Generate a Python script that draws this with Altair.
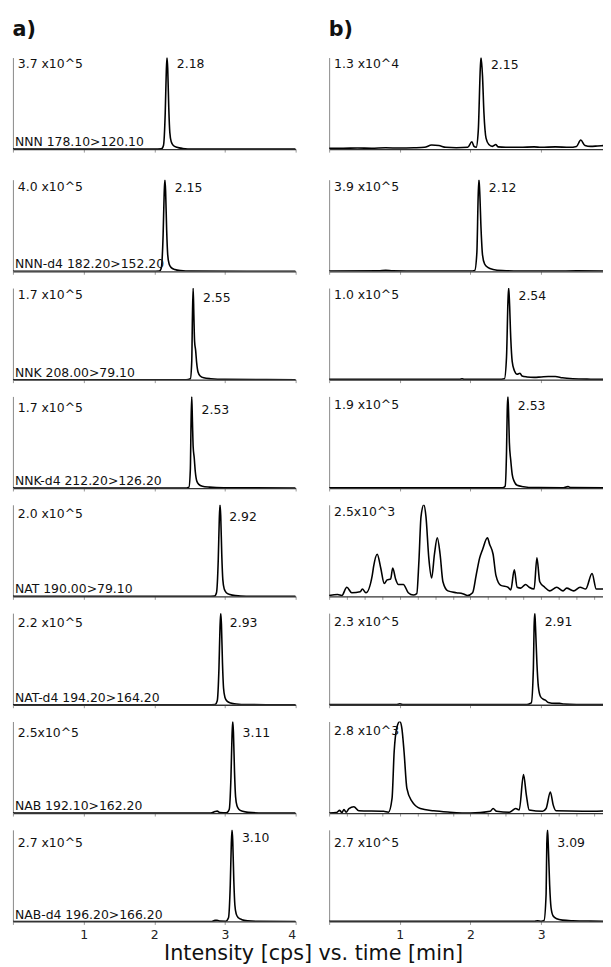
import altair as alt
import pandas as pd

FONT = "DejaVu Sans"

# ---------------- labels ----------------
LEFT_INTENSITY = ["3.7 x10^5", "4.0 x10^5", "1.7 x10^5", "1.7 x10^5",
                  "2.0 x10^5", "2.2 x10^5", "2.5x10^5", "2.7 x10^5"]
LEFT_COMPOUND = ["NNN 178.10>120.10", "NNN-d4 182.20>152.20", "NNK 208.00>79.10",
                 "NNK-d4 212.20>126.20", "NAT 190.00>79.10", "NAT-d4 194.20>164.20",
                 "NAB 192.10>162.20", "NAB-d4 196.20>166.20"]
LEFT_RT = ["2.18", "2.15", "2.55", "2.53", "2.92", "2.93", "3.11", "3.10"]

RIGHT_INTENSITY = ["1.3 x10^4", "3.9 x10^5", "1.0 x10^5", "1.9 x10^5",
                   "2.5x10^3", "2.3 x10^5", "2.8 x10^3", "2.7 x10^5"]
RIGHT_RT = ["2.15", "2.12", "2.54", "2.53", "", "2.91", "", "3.09"]

X_TICK_LABELS = [1, 2, 3, 4]

# layout: vertical offsets (px from panel top) of the in-panel labels
LEFT_INT_DY = [7, 7, 7, 12, 9, 10, 12, 13]
LEFT_RT_DY = [7, 8, 10, 14, 12, 10, 12, 8]
RIGHT_INT_DY = [7, 7, 7, 9, 7, 9, 10, 13]
RIGHT_RT_DY = [8, 8, 8, 10, 8, 9, 8, 13]

# ---------------- traces (time [min], relative intensity [%]) ----------------
a1_t = [0, 2.00, 2.10, 2.13, 2.155, 2.17, 2.18, 2.19, 2.205, 2.22, 2.24, 2.27, 2.32, 2.40, 2.55, 4.0]
a1_y = [0, 0, 0.3, 4, 40, 85, 100, 88, 45, 18, 8, 4, 2, 0.8, 0.2, 0]

a2_t = [0, 1.97, 2.07, 2.10, 2.125, 2.14, 2.15, 2.16, 2.175, 2.19, 2.21, 2.24, 2.29, 2.37, 2.52, 4.0]
a2_y = [0, 0, 0.3, 4, 40, 85, 100, 88, 45, 18, 8, 4, 2, 0.8, 0.2, 0]

a3_t = [0, 2.45, 2.51, 2.53, 2.54, 2.55, 2.56, 2.57, 2.585, 2.60, 2.62, 2.65, 2.70, 2.80, 3.00, 4.0]
a3_y = [0, 0, 1, 20, 70, 100, 70, 42, 32, 18, 8, 4, 2, 1, 0.3, 0]

a4_t = [0, 2.43, 2.49, 2.51, 2.52, 2.53, 2.54, 2.55, 2.565, 2.58, 2.60, 2.63, 2.68, 2.78, 2.98, 4.0]
a4_y = [0, 0, 1, 20, 70, 100, 72, 45, 33, 18, 8, 4, 2, 1, 0.3, 0]

a5_t = [0, 2.75, 2.85, 2.88, 2.905, 2.92, 2.93, 2.94, 2.955, 2.97, 2.99, 3.02, 3.07, 3.15, 3.30, 4.0]
a5_y = [0, 0, 0.3, 4, 40, 85, 100, 88, 45, 18, 8, 4, 2, 0.8, 0.2, 0]

a6_t = [0, 2.76, 2.86, 2.89, 2.915, 2.93, 2.94, 2.95, 2.965, 2.98, 3.00, 3.03, 3.08, 3.16, 3.31, 4.0]
a6_y = [0, 0, 0.3, 4, 40, 85, 100, 88, 45, 18, 8, 4, 2, 0.8, 0.2, 0]

a7_t = [0, 2.80, 2.86, 2.89, 2.93, 3.02, 3.06, 3.085, 3.10, 3.11, 3.12, 3.135, 3.15, 3.17, 3.20, 3.25, 3.33, 3.48, 4.0]
a7_y = [0, 0, 1.8, 2.2, 0.5, 0.3, 4, 40, 85, 100, 88, 45, 18, 8, 4, 2, 0.8, 0.2, 0]

a8_t = [0, 2.80, 2.86, 2.89, 2.93, 3.01, 3.05, 3.075, 3.09, 3.10, 3.11, 3.125, 3.14, 3.16, 3.19, 3.24, 3.32, 3.47, 4.0]
a8_y = [0, 0, 1.2, 1.4, 0.4, 0.3, 4, 40, 85, 100, 88, 45, 18, 8, 4, 2, 0.8, 0.2, 0]

b1_t = [0, 0.2, 0.4, 0.6, 0.8, 1.0, 1.2, 1.35, 1.45, 1.55, 1.65, 1.8, 1.96, 2.02, 2.05, 2.08,
        2.11, 2.14, 2.15, 2.17, 2.19, 2.22, 2.26, 2.31, 2.36, 2.39, 2.5, 2.7, 2.9, 3.0, 3.2, 3.4,
        3.5, 3.56, 3.62, 3.7, 3.8, 3.9]
b1_y = [1, 1, 1.2, 1, 1.5, 1.2, 1.5, 2, 4.5, 4, 2, 1.5, 2, 8, 3, 2,
        20, 90, 100, 80, 40, 12, 5, 3, 5, 2.5, 2, 2, 2.5, 2, 2.5, 2,
        3, 10, 4, 3, 3.5, 4]

b2_t = [0, 0.7, 0.8, 0.9, 1.5, 2.0, 2.06, 2.09, 2.11, 2.12, 2.13, 2.15, 2.17, 2.20, 2.25, 2.32, 2.45, 2.7, 3.2, 3.5, 3.9]
b2_y = [0.3, 0.5, 1, 0.5, 0.3, 0.3, 1, 20, 85, 100, 88, 45, 18, 8, 4, 2, 0.8, 0.3, 0.3, 0.5, 0.3]

b3_t = [0, 1.0, 1.85, 1.88, 1.91, 2.4, 2.48, 2.51, 2.53, 2.54, 2.55, 2.57, 2.59, 2.62, 2.66, 2.70,
        2.73, 2.80, 2.9, 3.0, 3.1, 3.2, 3.3, 3.45, 3.7, 3.9]
b3_y = [0.3, 0.3, 0.3, 1, 0.3, 0.3, 1, 25, 85, 100, 88, 45, 20, 10, 6, 7,
        4, 3, 2.5, 3, 3.5, 3.5, 2, 1, 0.5, 0.3]

b4_t = [0, 2.45, 2.49, 2.51, 2.52, 2.53, 2.54, 2.55, 2.57, 2.59, 2.62, 2.66, 2.75, 2.9, 3.3, 3.38, 3.42, 3.9]
b4_y = [0.2, 0.2, 2, 40, 85, 100, 80, 50, 30, 15, 7, 3, 1.5, 0.5, 0.3, 1.5, 0.5, 0.2]

b5_t = [0, 0.12, 0.18, 0.25, 0.32, 0.44, 0.47, 0.52, 0.61, 0.63, 0.68, 0.73, 0.78, 0.82, 0.87,
        0.90, 0.94, 0.98, 1.05, 1.12, 1.19, 1.24, 1.27, 1.30, 1.34, 1.37, 1.41, 1.45, 1.49,
        1.53, 1.57, 1.61, 1.68, 1.80, 1.89, 1.96, 2.03, 2.08, 2.13, 2.17, 2.24, 2.27, 2.32,
        2.36, 2.43, 2.53, 2.57, 2.62, 2.66, 2.71, 2.78, 2.83, 2.90, 2.94, 2.98, 3.05, 3.12,
        3.22, 3.31, 3.36, 3.46, 3.55, 3.63, 3.72, 3.78, 3.92]
b5_y = [1, 2, 1, 10, 4, 5, 8, 4, 23, 33, 46, 31, 14, 18, 19,
        31, 19, 13, 13, 4, 1.5, 3, 38, 87, 100, 87, 42, 20, 46,
        64, 46, 16, 6, 4, 3, 1, 4, 23, 42, 51, 64, 57, 46,
        23, 12, 10, 7, 29, 10, 9, 13, 10, 8, 42, 16, 10, 6,
        10, 6, 9, 6, 10, 8, 25, 8, 8]

b6_t = [0, 0.95, 1.0, 1.05, 2.8, 2.86, 2.89, 2.90, 2.91, 2.92, 2.94, 2.96, 2.99, 3.03, 3.06, 3.10,
        3.2, 3.26, 3.32, 3.5, 3.9]
b6_y = [0.2, 0.2, 1, 0.2, 0.2, 2, 40, 85, 100, 85, 45, 20, 9, 6, 5, 2.5,
        1.5, 1.5, 0.8, 0.3, 0.2]

b7_t = [0, 0.10, 0.15, 0.18, 0.21, 0.24, 0.28, 0.35, 0.42, 0.77, 0.84, 0.89, 0.92, 0.96, 1.00,
        1.03, 1.06, 1.10, 1.17, 1.29, 1.48, 1.71, 2.0, 2.28, 2.32, 2.37, 2.55, 2.64, 2.69,
        2.75, 2.79, 2.83, 3.02, 3.07, 3.13, 3.17, 3.21, 3.59, 3.92]
b7_y = [0, 0.5, 3, 0.5, 4, 1, 5, 7, 2.5, 2, 1, 16, 67, 94, 100,
        92, 67, 27, 13, 5, 2.5, 1, 0, 2, 5, 2, 1, 5, 3.5,
        42, 20, 3.5, 2, 5, 23, 9, 2.5, 2, 2.5]

b8_t = [0, 2.9, 2.95, 3.0, 3.04, 3.07, 3.08, 3.09, 3.10, 3.12, 3.14, 3.17, 3.22, 3.30, 3.45, 3.7, 3.9]
b8_y = [0.2, 0.2, 0.8, 0.3, 1, 30, 85, 100, 85, 40, 15, 6, 3, 1.5, 0.8, 0.4, 0.3]

LEFT_TRACES = [(a1_t, a1_y), (a2_t, a2_y), (a3_t, a3_y), (a4_t, a4_y),
               (a5_t, a5_y), (a6_t, a6_y), (a7_t, a7_y), (a8_t, a8_y)]
RIGHT_TRACES = [(b1_t, b1_y), (b2_t, b2_y), (b3_t, b3_y), (b4_t, b4_y),
                (b5_t, b5_y), (b6_t, b6_y), (b7_t, b7_y), (b8_t, b8_y)]

LEFT_W, RIGHT_W, H = 287, 278, 93
LEFT_XMAX, RIGHT_XMAX = 4.0, 3.875
FS = 12.6


def panel(t, y, intensity, compound, rt, int_dy, rt_dy, xmax, width, bottom, title=None):
    df = pd.DataFrame({"t": t, "y": y})
    xscale = alt.Scale(domain=[0, xmax], nice=False, zero=False)
    ticks = [k * 0.25 for k in range(0, int(xmax / 0.25) + 1)]
    xaxis = alt.Axis(values=ticks, labels=bottom, grid=False, title=None,
                     labelExpr="indexof(" + str(X_TICK_LABELS) + ", datum.value) >= 0 ? format(datum.value, 'd') : ''",
                     tickSize=3, tickColor="#999", tickWidth=1,
                     domainColor="#333", domainWidth=1.3,
                     labelFont=FONT, labelFontSize=FS, labelColor="#222", labelPadding=4)
    yaxis = alt.Axis(labels=False, ticks=False, grid=False, title=None,
                     domainColor="#888", domainWidth=1)
    line = alt.Chart(df).mark_line(color="black", strokeWidth=1.6, clip=True,
                                   interpolate="monotone").encode(
        x=alt.X("t:Q", scale=xscale, axis=xaxis),
        y=alt.Y("y:Q", scale=alt.Scale(domain=[0, 100], nice=False), axis=yaxis),
    )
    layers = [line]
    layers.append(alt.Chart(pd.DataFrame({"s": [intensity]})).mark_text(
        align="left", baseline="middle", font=FONT, fontSize=FS, color="#111").encode(
        x=alt.value(5), y=alt.value(int_dy), text="s:N"))
    if compound:
        layers.append(alt.Chart(pd.DataFrame({"s": [compound]})).mark_text(
            align="left", baseline="middle", font=FONT, fontSize=FS, color="#111").encode(
            x=alt.value(2), y=alt.value(H - 7), text="s:N"))
    if rt:
        layers.append(alt.Chart(pd.DataFrame({"t": [float(rt)], "s": [rt]})).mark_text(
            align="left", baseline="middle", font=FONT, fontSize=FS, color="#111", dx=10).encode(
            x=alt.X("t:Q", scale=xscale), y=alt.value(rt_dy), text="s:N"))
    props = dict(width=width, height=H)
    if title:
        props["title"] = alt.TitleParams(title, anchor="start", font=FONT, fontSize=21,
                                         fontWeight="bold", color="#111", offset=18)
    return alt.layer(*layers).properties(**props)


rows = []
for i in range(8):
    bottom = i == 7
    lt, ly = LEFT_TRACES[i]
    rt_, ry = RIGHT_TRACES[i]
    left = panel(lt, ly, LEFT_INTENSITY[i], LEFT_COMPOUND[i], LEFT_RT[i],
                 LEFT_INT_DY[i], LEFT_RT_DY[i], LEFT_XMAX, LEFT_W,
                 bottom, "a)" if i == 0 else None)
    right = panel(rt_, ry, RIGHT_INTENSITY[i], None, RIGHT_RT[i],
                  RIGHT_INT_DY[i], RIGHT_RT_DY[i], RIGHT_XMAX, RIGHT_W,
                  bottom, "b)" if i == 0 else None)
    rows.append(alt.hconcat(left, right, spacing=32).resolve_scale(x="independent", y="independent"))

lower = alt.vconcat(*rows[1:], spacing=13).resolve_scale(x="independent", y="independent")
chart = alt.vconcat(rows[0], lower, spacing=27).resolve_scale(
    x="independent", y="independent").properties(
    title=alt.TitleParams("Intensity [cps] vs. time [min]", orient="bottom", anchor="middle",
                          font=FONT, fontSize=21, fontWeight="normal", color="#111",
                          offset=3, dx=6),
    padding={"left": 4, "top": 4, "right": 0, "bottom": 0},
).configure_view(stroke=None)

chart.save("out.html", embed_options={"renderer": "svg", "actions": False})
